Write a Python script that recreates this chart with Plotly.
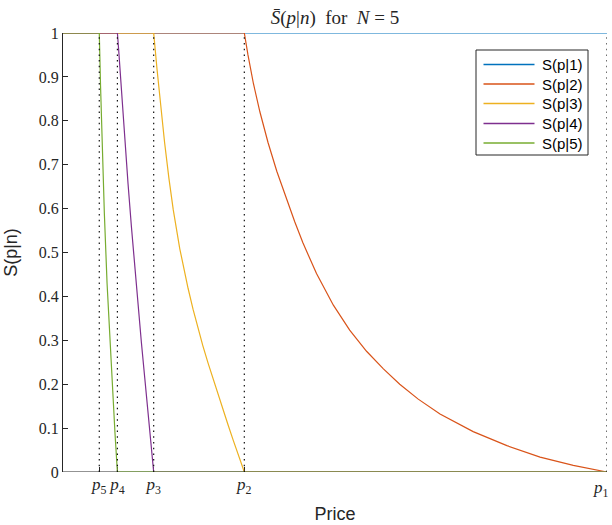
import plotly.graph_objects as go

# Threshold prices p1..p5 (price axis normalised to p1 = 1)
price_names = ["p1", "p2", "p3", "p4", "p5"]
price_values = [1.0, 0.3333, 0.1667, 0.1, 0.0667]

# Survival curves S(p|n), sampled along the price axis
s1_price = [0.0, 1.0]
s1_value = [1.0, 1.0]

s2_price = [0.0, 0.3333, 0.340, 0.350, 0.362, 0.377, 0.393, 0.411, 0.426, 0.441,
            0.466, 0.497, 0.527, 0.558, 0.589, 0.619, 0.653, 0.693, 0.754, 0.816,
            0.877, 0.938, 1.0]
s2_value = [1.0, 1.0, 0.950, 0.885, 0.820, 0.750, 0.685, 0.620, 0.570, 0.522,
            0.452, 0.380, 0.323, 0.275, 0.235, 0.200, 0.166, 0.132, 0.092, 0.060,
            0.034, 0.015, 0.0]

s3_price = [0.0, 0.1667, 0.1727, 0.1787, 0.1867, 0.1947, 0.2027, 0.2146, 0.2230,
            0.2300, 0.2390, 0.2480, 0.2570, 0.2667, 0.2760, 0.2850, 0.2940, 0.3035,
            0.3130, 0.3230, 0.3333, 1.0]
s3_value = [1.0, 1.0, 0.919, 0.843, 0.751, 0.669, 0.597, 0.509, 0.457,
            0.418, 0.371, 0.328, 0.288, 0.248, 0.211, 0.176, 0.142, 0.107,
            0.072, 0.036, 0.0, 0.0]

s4_price = [0.0, 0.1, 0.1024, 0.1050, 0.1074, 0.1105, 0.1135, 0.1196, 0.1258, 0.1319,
            0.1379, 0.1442, 0.1503, 0.1563, 0.1626, 0.1667, 1.0]
s4_value = [1.0, 1.0, 0.960, 0.912, 0.868, 0.812, 0.759, 0.656, 0.558, 0.466,
            0.380, 0.294, 0.214, 0.135, 0.053, 0.0, 0.0]

s5_price = [0.0, 0.0667, 0.0690, 0.0720, 0.0760, 0.0810, 0.0860, 0.0910, 0.0955, 0.1, 1.0]
s5_value = [1.0, 1.0, 0.880, 0.745, 0.590, 0.430, 0.305, 0.190, 0.090, 0.0, 0.0]

series_names = ["S(p|1)", "S(p|2)", "S(p|3)", "S(p|4)", "S(p|5)"]
series_colors = ["#0072BD", "#D95319", "#EDB120", "#7E2F8E", "#77AC30"]

y_ticks = [0.0, 0.1, 0.2, 0.3, 0.4, 0.5, 0.6, 0.7, 0.8, 0.9, 1.0]
y_tick_text = ["0", "0.1", "0.2", "0.3", "0.4", "0.5", "0.6", "0.7", "0.8", "0.9", "1"]

TEXT = "#262626"
SERIF = "Liberation Serif"
SANS = "Liberation Sans"

# Plot-area geometry in pixels, used to place the legend box
W, H = 612, 525
ML, MR, MT, MB = 63, 5, 33, 53
PW, PH = W - ML - MR, H - MT - MB
X_RANGE = [0, 1]
Y_RANGE = [0, 1]


def px_x(v):
    return (v - ML) / PW


def px_y(v):
    return (H - MB - v) / PH


def price_label(name):
    return "<i>p</i><sub>%s</sub>" % name[1:]


fig = go.Figure()

curves = [(s1_price, s1_value), (s2_price, s2_value), (s3_price, s3_value),
          (s4_price, s4_value), (s5_price, s5_value)]
for (px, py), name, color in zip(curves, series_names, series_colors):
    fig.add_trace(go.Scatter(
        x=px, y=py, mode="lines", name=name, showlegend=False,
        line=dict(color=color, width=1.2),
        cliponaxis=False,
    ))

# Dotted guides at each threshold price
for pv in price_values:
    fig.add_trace(go.Scatter(
        x=[pv, pv], y=Y_RANGE, mode="lines", showlegend=False, hoverinfo="skip",
        line=dict(color="#111111", width=1.2, dash="1.5px,4.2px"),
        cliponaxis=False,
    ))

# Tick labels; the one sitting on the right edge is set as a right-aligned note
tick_order = sorted(range(len(price_values)), key=lambda i: price_values[i])
x_ticks = [price_values[i] for i in tick_order]
x_tick_text = [price_label(price_names[i]) if price_values[i] < X_RANGE[1] else ""
               for i in tick_order]

annotations = []
for name, pv in zip(price_names, price_values):
    if pv >= X_RANGE[1]:
        annotations.append(dict(text=price_label(name), xref="paper", yref="paper",
                                x=px_x(W - 1), y=px_y(489), xanchor="right",
                                yanchor="middle", showarrow=False,
                                font=dict(family=SERIF, size=17, color=TEXT)))

# Baseline of the price axis, kept underneath the curves
shapes = [dict(type="line", xref="x", yref="y", x0=X_RANGE[0], x1=X_RANGE[1],
               y0=Y_RANGE[0], y1=Y_RANGE[0], line=dict(color=TEXT, width=1),
               layer="below")]

# Legend box: frame, line samples and labels
shapes.append(dict(type="rect", xref="paper", yref="paper",
                   x0=px_x(476), x1=px_x(588), y0=px_y(155), y1=px_y(50),
                   line=dict(color=TEXT, width=1), fillcolor="white", layer="above"))
row_y = [64.5, 84.0, 103.5, 123.5, 143.0]
for name, color, ry in zip(series_names, series_colors, row_y):
    shapes.append(dict(type="line", xref="paper", yref="paper",
                       x0=px_x(483.5), x1=px_x(534.5), y0=px_y(ry), y1=px_y(ry),
                       line=dict(color=color, width=1.5), layer="above"))
    annotations.append(dict(text=name, xref="paper", yref="paper",
                            x=px_x(540), y=px_y(ry), xanchor="left", yanchor="middle",
                            showarrow=False,
                            font=dict(family=SANS, size=15, color="black")))

fig.update_layout(
    width=W, height=H,
    margin=dict(l=ML, r=MR, t=MT, b=MB),
    paper_bgcolor="white", plot_bgcolor="white",
    showlegend=False,
    title=dict(
        text="<i>S\u0304</i>(<i>p</i>|<i>n</i>)&nbsp;&nbsp;for&nbsp;&nbsp;<i>N</i>&nbsp;=&nbsp;5",
        font=dict(family=SERIF, size=19, color=TEXT),
        x=0.5, xref="paper", xanchor="center",
        y=1 - 17 / H, yref="container", yanchor="middle",
    ),
    xaxis=dict(
        range=X_RANGE, showgrid=False, zeroline=False, automargin=False,
        showline=False,
        ticks="inside", ticklen=5, tickcolor=TEXT,
        tickvals=x_ticks, ticktext=x_tick_text,
        tickfont=dict(family=SERIF, size=17, color=TEXT),
        layer="below traces",
        title=dict(text="Price", font=dict(family=SANS, size=18, color=TEXT), standoff=11),
    ),
    yaxis=dict(
        range=Y_RANGE, showgrid=False, zeroline=False, automargin=False,
        showline=True, linecolor=TEXT, linewidth=1,
        ticks="inside", ticklen=5, tickcolor=TEXT,
        tickvals=y_ticks, ticktext=y_tick_text,
        tickfont=dict(family=SERIF, size=16, color=TEXT),
        layer="below traces",
        title=dict(text="S(p|n)", font=dict(family=SANS, size=18, color=TEXT), standoff=16),
    ),
    shapes=shapes,
    annotations=annotations,
)

fig.write_html("out.html")
